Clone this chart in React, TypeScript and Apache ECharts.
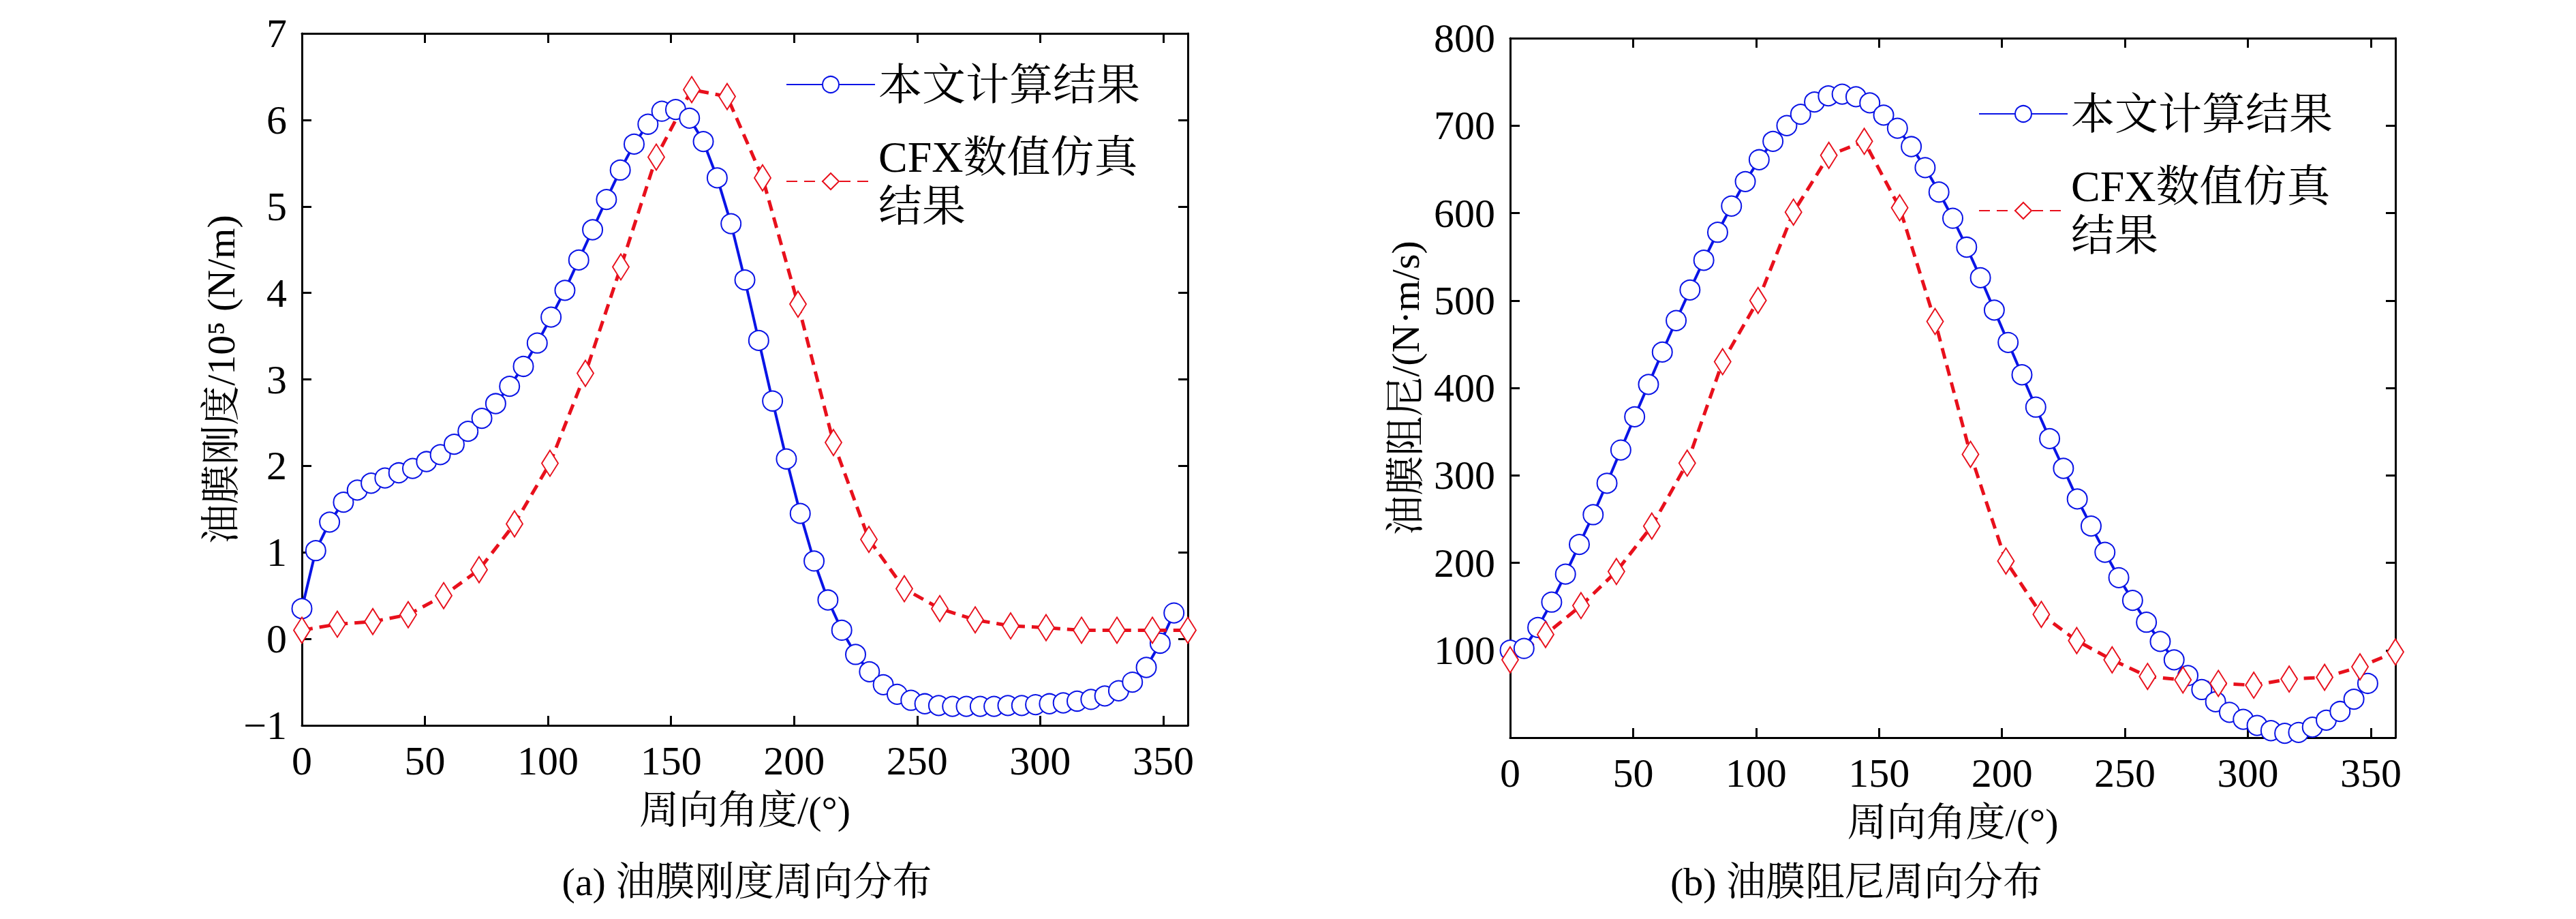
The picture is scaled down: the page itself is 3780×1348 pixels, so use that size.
import { useEffect, useRef } from 'react';
import * as echarts from 'echarts';

const blueStep = 5.625;
const redStep = 14.4;

const stiffBlue = [
  0.35, 1.02, 1.35, 1.58, 1.72, 1.8, 1.86, 1.92, 1.97, 2.05, 2.13, 2.25, 2.4, 2.55, 2.72, 2.92,
  3.15, 3.42, 3.72, 4.03, 4.38, 4.73, 5.08, 5.42, 5.72, 5.95, 6.1, 6.12, 6.02, 5.75, 5.33, 4.8,
  4.15, 3.45, 2.75, 2.08, 1.45, 0.9, 0.45, 0.1, -0.18, -0.38, -0.53, -0.64, -0.71, -0.75, -0.77, -0.78,
  -0.78, -0.78, -0.78, -0.77, -0.77, -0.76, -0.75, -0.74, -0.72, -0.7, -0.66, -0.6, -0.5, -0.33, -0.05, 0.3,
];
const stiffRed = [
  0.1, 0.17, 0.2, 0.28, 0.5, 0.8, 1.33, 2.03, 3.07, 4.3, 5.57, 6.35, 6.27, 5.33, 3.87, 2.27,
  1.15, 0.58, 0.35, 0.22, 0.15, 0.13, 0.1, 0.1, 0.1, 0.1,
];
const dampBlue = [
  100, 102, 126, 155, 187, 221, 255, 291, 329, 367, 404, 441, 477, 512, 546, 578,
  608, 636, 661, 682, 700, 713, 727, 734, 736, 733, 726, 712, 697, 676, 652, 624,
  594, 561, 526, 489, 452, 415, 378, 342, 308, 273, 242, 212, 183, 157, 132, 110,
  89, 71, 55, 41, 29, 21, 14, 8, 5, 6, 12, 20, 30, 44, 62,
];
const dampRed = [
  89, 118, 151, 190, 242, 314, 430, 500, 601, 666, 682, 606, 476, 324, 202, 141,
  111, 89, 70, 66, 62, 60, 67, 69, 81, 98,
];

const xTicks = [0, 50, 100, 150, 200, 250, 300, 350];
const nameBlue = '本文计算结果';
const nameRed = 'CFX数值仿真\n结果';

const font = '"Liberation Serif", "Noto Serif CJK SC", "Noto Sans CJK SC", serif';
const blue = '#0a14e6';
const red = '#e8101c';

const pairs = (vals: number[], step: number) => vals.map((v, i) => [i * step, v]);

const App = () => {
  const chartDom = useRef<HTMLDivElement | null>(null);

  useEffect(() => {
    if (!chartDom.current) return;
    const myChart = echarts.init(chartDom.current, null, { renderer: 'svg' });
    const grids = [
      { left: 435, top: 41, width: 1300, height: 1015 },
      { left: 2208, top: 48, width: 1299, height: 1026 },
    ];
    const line = { show: true, onZero: false, lineStyle: { color: '#000', width: 3 } };
    const tick = { show: true, inside: true, length: 14, lineStyle: { color: '#000', width: 3 } };
    const label = { color: '#000', fontSize: 60, fontFamily: font, margin: 22 };
    const nameStyle = { color: '#000', fontSize: 58, fontFamily: font };
    const xAxis: any[] = [];
    const yAxis: any[] = [];
    [0, 1].forEach((g) => {
      xAxis.push({
        type: 'value', gridIndex: g, min: 0, max: 360, interval: 50,
        axisLine: line, axisTick: tick, splitLine: { show: false },
        axisLabel: { ...label, showMaxLabel: false, formatter: (v: number) => (xTicks.includes(v) ? String(v) : '') },
        name: '周向角度/(°)', nameLocation: 'middle', nameGap: 95, nameTextStyle: nameStyle,
      });
      xAxis.push({
        type: 'value', gridIndex: g, position: 'top', min: 0, max: 360, interval: 50,
        axisLine: line, axisTick: tick, axisLabel: { show: false }, splitLine: { show: false },
      });
    });
    yAxis.push({
      type: 'value', gridIndex: 0, min: -1, max: 7, interval: 1,
      axisLine: line, axisTick: tick, splitLine: { show: false },
      axisLabel: { ...label, formatter: (v: number) => (v < 0 ? '−' + Math.abs(v) : String(v)) },
      name: '油膜刚度/10⁵ (N/m)', nameLocation: 'middle', nameGap: 85, nameTextStyle: nameStyle,
    });
    yAxis.push({
      type: 'value', gridIndex: 0, position: 'right', min: -1, max: 7, interval: 1,
      axisLine: line, axisTick: tick, axisLabel: { show: false }, splitLine: { show: false },
    });
    yAxis.push({
      type: 'value', gridIndex: 1, min: 0, max: 800, interval: 100,
      axisLine: line, axisTick: tick, splitLine: { show: false },
      axisLabel: { ...label, showMinLabel: false },
      name: '油膜阻尼/(N·m/s)', nameLocation: 'middle', nameGap: 125, nameTextStyle: nameStyle,
    });
    yAxis.push({
      type: 'value', gridIndex: 1, position: 'right', min: 0, max: 800, interval: 100,
      axisLine: line, axisTick: tick, axisLabel: { show: false }, splitLine: { show: false },
    });

    const blueSeries = (data: number[][], g: number) => ({
      name: nameBlue, type: 'line', xAxisIndex: g * 2, yAxisIndex: g * 2, data,
      symbol: 'emptyCircle', symbolSize: 29,
      lineStyle: { color: blue, width: 4 }, itemStyle: { color: blue, borderWidth: 6 },
    });
    const redSeries = (data: number[][], g: number) => ({
      name: nameRed, type: 'line', xAxisIndex: g * 2, yAxisIndex: g * 2, data,
      symbol: 'emptyDiamond', symbolSize: [24, 38],
      lineStyle: { color: red, width: 5, type: [16, 10] }, itemStyle: { color: red, borderWidth: 4 },
    });
    const legendBase = {
      orient: 'vertical', itemWidth: 130, itemHeight: 30, itemGap: 34,
      textStyle: { color: '#000', fontSize: 64, fontFamily: font, lineHeight: 72 },
      data: [nameBlue, nameRed],
    };
    const caption = (text: string, x: number, y: number) => ({
      type: 'text', x, y,
      style: { text, fill: '#000', fontSize: 58, fontFamily: font, textAlign: 'center', textVerticalAlign: 'middle' },
    });

    myChart.setOption({
      animation: false,
      backgroundColor: '#fff',
      grid: grids,
      xAxis,
      yAxis,
      legend: [
        { ...legendBase, left: 1140, top: 75 },
        { ...legendBase, left: 2890, top: 118 },
      ],
      series: [
        blueSeries(pairs(stiffBlue, blueStep), 0),
        redSeries(pairs(stiffRed, redStep), 0),
        blueSeries(pairs(dampBlue, blueStep), 1),
        redSeries(pairs(dampRed, redStep), 1),
      ],
      graphic: [
        caption('(a) 油膜刚度周向分布', 1088, 1285),
        caption('(b) 油膜阻尼周向分布', 2716, 1285),
      ],
    });
    return () => {
      myChart.dispose();
    };
  }, []);

  return <div ref={chartDom} style={{ width: 3764, height: 1332 }} />;
};

export default App;
